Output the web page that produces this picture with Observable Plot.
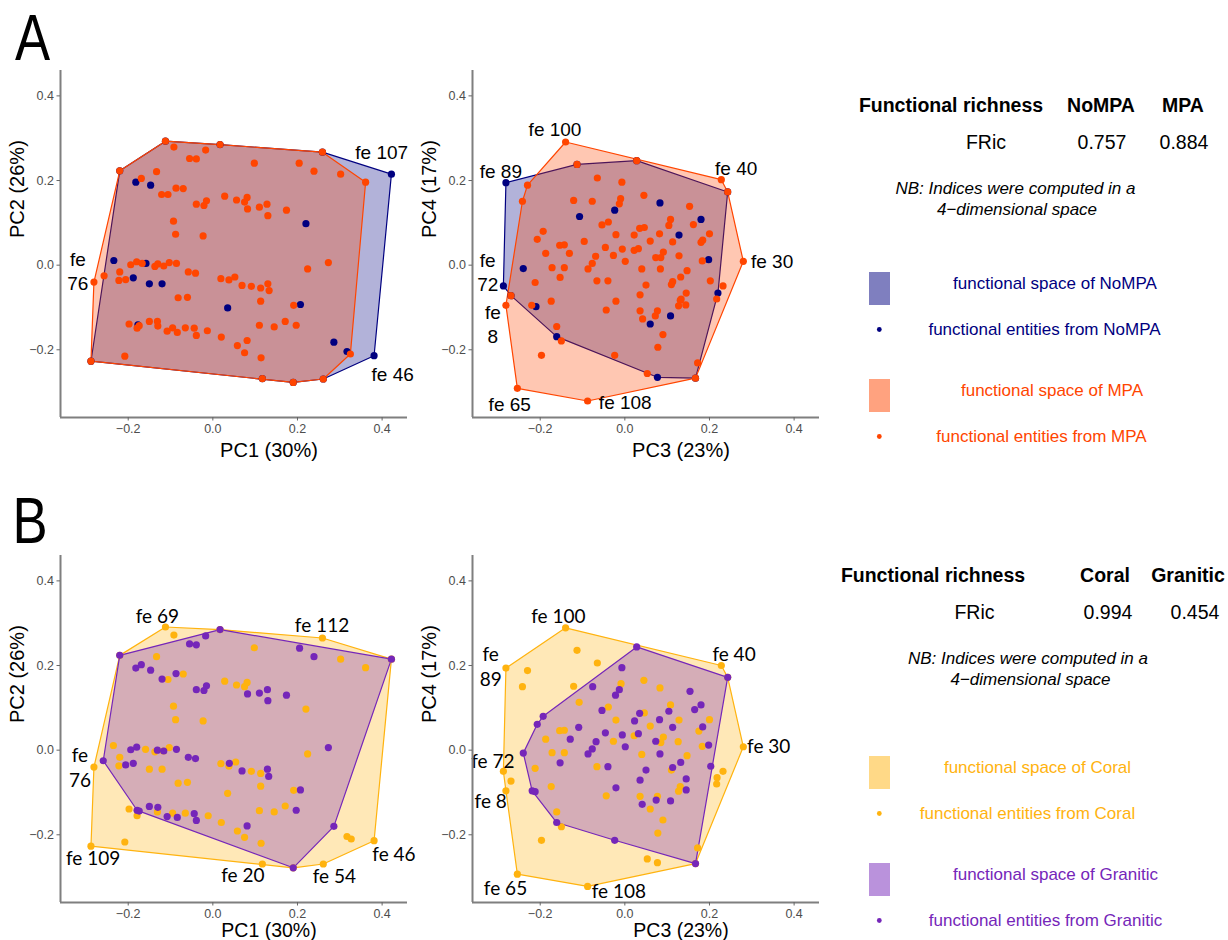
<!DOCTYPE html>
<html><head><meta charset="utf-8">
<script src="https://cdn.jsdelivr.net/npm/d3@7"></script>
<script src="https://cdn.jsdelivr.net/npm/@observablehq/plot@0.6"></script>
<style>
body{margin:0;background:#fff;}
#root{position:relative;width:1228px;height:940px;overflow:hidden;font-family:"Liberation Sans",Arial,sans-serif;}
#root > svg{position:absolute;}
</style></head><body><div id="root"></div>
<script>
// ---------- data (functional entity coordinates) ----------
const mpaPC12 = [[-0.112,0.293],[0.017,0.285],[0.259,0.267],[0.361,0.196],[0.325,-0.210],[0.261,-0.269],[0.190,-0.277],[0.117,-0.268],[-0.288,-0.227],[-0.281,-0.040],[-0.220,0.223],
[-0.092,0.279],[-0.017,0.272],[-0.055,0.252],[-0.039,0.251],[-0.133,0.221],[-0.169,0.205],[0.098,0.241],[0.204,0.241],[0.239,0.222],[0.302,0.215],
[-0.087,0.182],[-0.070,0.181],[-0.121,0.167],[-0.106,0.167],[-0.039,0.144],[-0.021,0.141],[-0.015,0.152],[0.028,0.163],[0.056,0.154],[0.081,0.160],[0.075,0.149],[0.082,0.133],[0.110,0.137],[0.128,0.144],[0.130,0.117],[0.174,0.130],
[-0.093,0.104],[-0.088,0.073],[-0.023,0.069],[0.273,0.006],[0.224,-0.009],
[-0.194,0.001],[-0.180,0.008],[-0.167,0.004],[-0.137,-0.003],[-0.130,0.003],[-0.116,-0.002],[-0.103,0.006],[-0.086,0.004],
[-0.220,-0.016],[-0.257,-0.025],[-0.222,-0.036],[-0.206,-0.034],[-0.058,-0.016],[-0.041,-0.019],[0.019,-0.032],[0.038,-0.035],[0.052,-0.028],[0.069,-0.048],[0.091,-0.050],[0.113,-0.054],[0.130,-0.044],[0.133,-0.060],
[-0.082,-0.077],[-0.060,-0.076],[0.113,-0.085],[0.191,-0.095],
[-0.198,-0.139],[-0.179,-0.149],[-0.174,-0.143],[-0.150,-0.133],[-0.131,-0.133],[-0.130,-0.144],[-0.108,-0.156],[-0.095,-0.148],[-0.084,-0.159],[-0.065,-0.148],[-0.044,-0.149],[-0.039,-0.166],[-0.013,-0.155],[0.020,-0.170],
[0.058,-0.190],[0.081,-0.178],[0.075,-0.207],[0.110,-0.142],[0.145,-0.146],[0.171,-0.133],[0.197,-0.142],[0.114,-0.219],[-0.208,-0.215]];

const noMpaPC12 = [[-0.182,0.196],[-0.147,0.189],[0.220,0.098],[-0.234,0.011],[-0.158,0.004],[-0.188,-0.030],[-0.150,-0.044],[-0.120,-0.044],[0.035,-0.101],[0.207,-0.093],[-0.177,-0.141],[0.286,-0.182],[0.317,-0.204],[0.422,0.215],[0.381,-0.214],
[-0.220,0.223],[-0.112,0.293],[0.017,0.285],[0.259,0.267],[0.261,-0.269],[0.190,-0.277],[0.117,-0.268],[-0.288,-0.227]];

const mpaPC34 = [[-0.140,0.291],[0.028,0.247],[0.228,0.202],[0.243,0.173],[0.280,0.009],[0.167,-0.267],[-0.088,-0.321],[-0.254,-0.291],[-0.281,-0.095],[-0.269,-0.072],[-0.242,0.151],[-0.230,0.189],[-0.113,0.238],
[-0.065,0.206],[-0.007,0.196],[0.045,0.165],[-0.010,0.157],[-0.013,0.145],[-0.121,0.153],[-0.077,0.151],[0.153,0.139],[0.108,0.108],[0.104,0.094],[0.162,0.096],[-0.054,0.095],[-0.039,0.102],[0.035,0.087],[0.046,0.089],[0.022,0.071],[-0.021,0.072],[0.082,0.074],[0.060,0.057],[0.200,0.074],[-0.193,0.080],[-0.207,0.061],[-0.096,0.056],[-0.154,0.047],[-0.143,0.048],[-0.187,0.028],[-0.131,0.028],[-0.069,0.021],[-0.077,0.004],[-0.087,-0.009],[-0.046,0.042],[-0.027,0.023],[-0.006,0.038],[0.001,0.009],[0.022,0.035],[0.032,0.039],[0.073,0.018],[0.085,0.018],[0.091,0.031],[0.113,0.055],[0.128,0.022],[0.180,0.054],[0.184,0.059],[0.183,0.010],[-0.172,-0.006],[-0.143,-0.006],[-0.153,-0.029],[0.040,-0.009],[0.084,-0.009],[0.147,-0.013],[0.132,-0.028],[0.113,-0.039],[0.110,-0.046],[0.050,-0.047],[0.202,-0.037],[0.232,-0.049],[-0.212,-0.041],[-0.066,-0.037],[-0.040,-0.037],[0.145,-0.066],[0.131,-0.083],[0.127,-0.096],[0.144,-0.094],[0.133,-0.080],[0.036,-0.070],[0.217,-0.080],[-0.021,-0.085],[-0.174,-0.085],[-0.220,-0.095],[-0.044,-0.106],[0.036,-0.108],[0.042,-0.127],[0.077,-0.108],[0.072,-0.120],[-0.161,-0.145],[-0.150,-0.179],[-0.197,-0.213],[0.090,-0.164],[0.078,-0.194],[-0.024,-0.213],[0.172,-0.231],[0.053,-0.256]];

const noMpaPC34 = [[-0.281,0.195],[-0.287,-0.049],[-0.240,-0.008],[-0.210,-0.098],[-0.161,-0.169],[0.077,-0.265],[0.167,-0.267],[0.220,-0.066],[0.243,0.173],[0.028,0.247],[-0.113,0.238],[-0.269,-0.072],
[0.083,0.147],[-0.024,0.130],[-0.107,0.115],[0.128,0.071],[0.180,0.108],[0.198,0.013],[0.060,-0.139],[0.108,-0.120]];

const coralPC12 = [[-0.112,0.291],[0.017,0.285],[0.259,0.265],[0.422,0.215],[0.381,-0.214],[0.261,-0.269],[0.190,-0.278],[0.117,-0.269],[-0.288,-0.227],[-0.281,-0.040],[-0.220,0.224],
[-0.092,0.272],[-0.133,0.221],[0.098,0.242],[0.302,0.215],[0.361,0.195],[-0.070,0.180],[-0.106,0.167],[0.028,0.163],[0.056,0.154],[0.075,0.150],[0.081,0.160],[-0.093,0.104],[-0.088,0.072],[-0.023,0.069],[0.220,0.097],[0.224,-0.009],[-0.235,0.011],[-0.220,-0.017],[-0.222,-0.037],[-0.159,0.002],[-0.137,-0.004],[-0.117,-0.002],[-0.103,0.006],[-0.150,-0.045],[-0.120,-0.045],[0.019,-0.032],[0.038,-0.038],[0.054,-0.028],[0.091,-0.050],[0.113,-0.055],[-0.082,-0.078],[-0.060,-0.076],[0.113,-0.085],[0.191,-0.095],[0.035,-0.102],[-0.198,-0.139],[-0.179,-0.155],[-0.131,-0.146],[-0.095,-0.149],[-0.065,-0.149],[-0.011,-0.155],[0.020,-0.171],[0.110,-0.143],[0.145,-0.146],[0.171,-0.132],[0.058,-0.191],[0.075,-0.206],[0.114,-0.220],[-0.208,-0.217],[0.317,-0.204],[0.327,-0.210]];

const graniticPC12 = [[-0.220,0.224],[0.017,0.285],[0.422,0.215],[0.286,-0.180],[0.190,-0.278],[-0.179,-0.142],[-0.259,-0.025],
[-0.017,0.270],[-0.055,0.251],[-0.039,0.249],[-0.182,0.194],[-0.169,0.202],[-0.147,0.189],[-0.120,0.168],[-0.087,0.181],[-0.039,0.143],[-0.021,0.141],[-0.015,0.152],[0.082,0.133],[0.110,0.135],[0.129,0.143],[0.130,0.117],[0.174,0.130],[0.205,0.241],[0.239,0.221],[0.273,0.006],[-0.194,0.001],[-0.180,0.007],[-0.131,0.000],[-0.116,-0.002],[-0.086,0.002],[-0.206,-0.035],[-0.188,-0.031],[-0.058,-0.017],[-0.041,-0.020],[0.039,-0.031],[0.069,-0.049],[0.129,-0.045],[0.132,-0.062],[0.207,-0.094],[0.197,-0.142],[-0.150,-0.133],[-0.130,-0.135],[-0.108,-0.157],[-0.084,-0.159],[-0.044,-0.150],[-0.039,-0.166],[0.081,-0.179],[-0.174,-0.144]];

const coralPC34 = [[-0.140,0.289],[0.228,0.200],[0.243,0.172],[0.280,0.008],[0.172,-0.231],[0.167,-0.268],[-0.088,-0.322],[-0.254,-0.293],[-0.281,-0.096],[-0.287,-0.050],[-0.281,0.194],
[-0.113,0.236],[-0.065,0.206],[-0.230,0.188],[-0.242,0.150],[-0.121,0.151],[-0.009,0.157],[0.045,0.165],[0.083,0.147],[-0.108,0.113],[-0.039,0.102],[0.108,0.107],[-0.021,0.071],[0.046,0.088],[0.060,0.057],[0.128,0.071],[0.200,0.072],[0.175,0.045],[0.183,0.009],[-0.154,0.046],[-0.143,0.047],[-0.187,0.026],[-0.172,-0.006],[-0.143,-0.006],[-0.027,0.021],[0.022,0.034],[0.091,0.031],[0.085,0.018],[0.126,0.020],[0.147,-0.013],[0.040,-0.010],[-0.066,-0.039],[-0.212,-0.043],[0.110,-0.047],[-0.269,-0.073],[-0.174,-0.086],[-0.044,-0.108],[0.036,-0.109],[0.077,-0.109],[0.131,-0.086],[0.127,-0.097],[0.060,-0.139],[0.090,-0.165],[0.078,-0.196],[-0.161,-0.146],[-0.150,-0.181],[-0.197,-0.213],[0.053,-0.257],[0.077,-0.266],[0.232,-0.050],[0.218,-0.065],[0.217,-0.080]];

const graniticPC34 = [[0.028,0.244],[0.243,0.172],[0.203,-0.038],[0.167,-0.268],[-0.024,-0.213],[-0.161,-0.171],[-0.219,-0.096],[-0.212,-0.098],[-0.240,-0.007],[-0.207,0.061],[-0.193,0.080],
[-0.007,0.195],[-0.076,0.150],[-0.013,0.143],[-0.022,0.130],[0.154,0.139],[0.165,0.096],[0.180,0.107],[-0.054,0.094],[0.035,0.087],[0.023,0.069],[0.082,0.072],[0.104,0.092],[0.113,0.054],[0.184,0.055],[-0.109,0.054],[-0.129,0.026],[-0.046,0.041],[-0.006,0.036],[0.032,0.039],[-0.068,0.020],[-0.077,0.003],[-0.087,-0.009],[0.001,0.008],[0.073,0.021],[0.083,-0.009],[0.198,0.012],[0.132,-0.029],[0.113,-0.041],[-0.153,-0.030],[-0.040,-0.039],[0.050,-0.047],[0.036,-0.071],[0.145,-0.068],[0.145,-0.094],[-0.021,-0.089],[0.074,-0.118],[0.041,-0.128],[0.108,-0.120]];

// vertex labels: text, position in PC units
const labelsA12 = [["fe 107",0.399,0.269],["fe 46",0.425,-0.254],["fe\n76",-0.319,-0.012]];
const labelsA34 = [["fe 100",-0.165,0.325],["fe 89",-0.293,0.224],["fe 40",0.263,0.231],["fe 30",0.348,0.0125],["fe\n72",-0.324,-0.014],["fe\n8",-0.312,-0.137],["fe 65",-0.272,-0.325],["fe 108",0.001,-0.321]];
const labelsB12 = [["fe 69",-0.131,0.319],["fe 112",0.258,0.298],["fe 46",0.428,-0.243],["fe 54",0.287,-0.295],["fe 20",0.071,-0.293],["fe 109",-0.283,-0.253],["fe\n76",-0.314,-0.039]];
const labelsB34 = [["fe 100",-0.157,0.318],["fe\n89",-0.317,0.200],["fe 40",0.258,0.230],["fe 30",0.340,0.011],["fe 72",-0.312,-0.024],["fe 8",-0.317,-0.119],["fe 65",-0.282,-0.324],["fe 108",-0.014,-0.331]];

const axisTicks = [-0.2, 0, 0.2, 0.4];
const axisTitles = {pc1:"PC1 (30%)", pc2:"PC2 (26%)", pc3:"PC3 (23%)", pc4:"PC4 (17%)"};

const groupsA = ["NoMPA","MPA"];
const groupsB = ["Coral","Granitic"];
const friA = [0.757, 0.884];
const friB = [0.994, 0.454];

const COLORS = {NoMPA:"#000080", MPA:"#ff4500", Coral:"#ffb30f", Granitic:"#7526b9"};

// ---------- drawing ----------
const root = document.getElementById("root");
const DOMAIN = [-0.36, 0.46];
const FRAME = 347;

function panel({groups, labels, xLabel, yLabel, labelFont, left, top, xTitleDy, xTitleSize}) {
  const marks = [];
  const rows = g => g.pts.map(([x, y]) => ({x, y, g: g.name}));
  for (const g of groups)
    marks.push(Plot.hull(rows(g), {x: "x", y: "y", fill: COLORS[g.name], fillOpacity: 0.3, stroke: COLORS[g.name], strokeWidth: 1.2}));
  for (const g of groups)
    marks.push(Plot.dot(rows(g), {x: "x", y: "y", r: 3.6, fill: COLORS[g.name], stroke: "none"}));
  marks.push(Plot.text(labels, {x: d => d[1], y: d => d[2], text: d => d[0], fontSize: 19, fontFamily: labelFont,
    lineHeight: 1.3, textAnchor: "middle", lineAnchor: "middle", fill: "black"}));
  marks.push(Plot.ruleX([DOMAIN[0]], {stroke: "#7f7f7f", strokeWidth: 2}));
  marks.push(Plot.ruleY([DOMAIN[0]], {stroke: "#7f7f7f", strokeWidth: 2}));
  marks.push(Plot.axisX({ticks: axisTicks, tickFormat: d3.format(".1f"), tickSize: 3.5, tickPadding: 3, fontSize: 12.5,
    stroke: "#666", fill: "#4d4d4d", label: null}));
  marks.push(Plot.axisY({ticks: axisTicks, tickFormat: d3.format(".1f"), tickSize: 3.5, tickPadding: 3, fontSize: 12.5,
    stroke: "#666", fill: "#4d4d4d", label: null}));
  marks.push(Plot.text([xLabel], {text: d => d, frameAnchor: "bottom", lineAnchor: "middle", dx: 35, dy: xTitleDy, fontSize: xTitleSize, fill: "black"}));
  marks.push(Plot.text([yLabel], {text: d => d, frameAnchor: "left", rotate: -90, dx: -43, dy: -6, fontSize: 20, fill: "black"}));
  const svg = Plot.plot({
    width: 60 + FRAME + 20, height: 15 + FRAME + 55,
    marginLeft: 60, marginRight: 20, marginTop: 15, marginBottom: 55,
    x: {domain: DOMAIN}, y: {domain: DOMAIN},
    style: {background: "none", overflow: "visible", fontFamily: "'Liberation Sans', Arial, sans-serif", color: "#4d4d4d"},
    marks
  });
  svg.style.left = left + "px";
  svg.style.top = top + "px";
  root.appendChild(svg);
}

panel({groups: [{name: "NoMPA", pts: noMpaPC12}, {name: "MPA", pts: mpaPC12}], labels: labelsA12,
  xLabel: axisTitles.pc1, yLabel: axisTitles.pc2, labelFont: "Liberation Sans", left: 0, top: 55, xTitleDy: 33, xTitleSize: 20});
panel({groups: [{name: "NoMPA", pts: noMpaPC34}, {name: "MPA", pts: mpaPC34}], labels: labelsA34,
  xLabel: axisTitles.pc3, yLabel: axisTitles.pc4, labelFont: "Liberation Sans", left: 412, top: 55, xTitleDy: 33, xTitleSize: 20});
panel({groups: [{name: "Coral", pts: coralPC12}, {name: "Granitic", pts: graniticPC12}], labels: labelsB12,
  xLabel: axisTitles.pc1, yLabel: axisTitles.pc2, labelFont: "Lato", left: 0, top: 540, xTitleDy: 28.5, xTitleSize: 19.5});
panel({groups: [{name: "Coral", pts: coralPC34}, {name: "Granitic", pts: graniticPC34}], labels: labelsB34,
  xLabel: axisTitles.pc3, yLabel: axisTitles.pc4, labelFont: "Lato", left: 412, top: 540, xTitleDy: 28.5, xTitleSize: 19.5});

// ---------- side tables, legends, panel letters ----------
const over = d3.select(root).append("svg").attr("width", 1228).attr("height", 940)
  .style("left", "0px").style("top", "0px").style("pointer-events", "none")
  .style("font-family", "'Liberation Sans', Arial, sans-serif");

function txt(x, y, s, o = {}) {
  over.append("text").attr("x", x).attr("y", y).attr("text-anchor", o.anchor || "middle")
    .attr("font-size", o.size || 17).attr("font-weight", o.weight || null)
    .attr("font-style", o.italic ? "italic" : null).attr("fill", o.fill || "black").text(s);
}

over.append("text").attr("transform", "translate(15,60) scale(0.81,1)").attr("font-size", 65).text("A");
over.append("text").attr("transform", "translate(12.5,543) scale(0.81,1)").attr("font-size", 65).text("B");

function sideBlock(groups, fri, y0, cols) {
  txt(cols.title, y0, "Functional richness", {size: 19.5, weight: "bold"});
  txt(cols.g1, y0, groups[0], {size: 19.5, weight: "bold"});
  txt(cols.g2, y0, groups[1], {size: 19.5, weight: "bold"});
  txt(cols.fric, y0 + 37, "FRic", {size: 19.5});
  txt(cols.v1, y0 + 37, d3.format(".3f")(fri[0]), {size: 19.5});
  txt(cols.v2, y0 + 37, d3.format(".3f")(fri[1]), {size: 19.5});
  txt(cols.nb1, y0 + 82, "NB: Indices were computed in a", {size: 17, italic: true});
  txt(cols.nb2, y0 + 103, "4\u2212dimensional space", {size: 17, italic: true});
  const L = cols.legend;
  groups.forEach((g, i) => {
    const yy = y0 + L.start + i * L.step;
    over.append("rect").attr("x", 869).attr("y", yy).attr("width", 21).attr("height", 33)
      .attr("fill", COLORS[g]).attr("fill-opacity", 0.5);
    txt(L.space[i], yy + 16.5, "functional space of " + g, {fill: COLORS[g]});
    over.append("circle").attr("cx", 879.3).attr("cy", yy + 57.5).attr("r", 2.4).attr("fill", COLORS[g]);
    txt(L.ent[i], yy + 62.5, "functional entities from " + g, {fill: COLORS[g]});
  });
}

sideBlock(groupsA, friA, 112, {title: 951, g1: 1101, g2: 1183, fric: 986, v1: 1102, v2: 1184, nb1: 1015.5, nb2: 1017,
  legend: {start: 160, step: 107, space: [1055, 1052], ent: [1044.5, 1041.5]}});
sideBlock(groupsB, friB, 581.7, {title: 933, g1: 1105, g2: 1188, fric: 974.5, v1: 1108, v2: 1195, nb1: 1028, nb2: 1030.5,
  legend: {start: 174.3, step: 107, space: [1037.5, 1055.5], ent: [1027.5, 1045.5]}});
</script>
</body></html>
